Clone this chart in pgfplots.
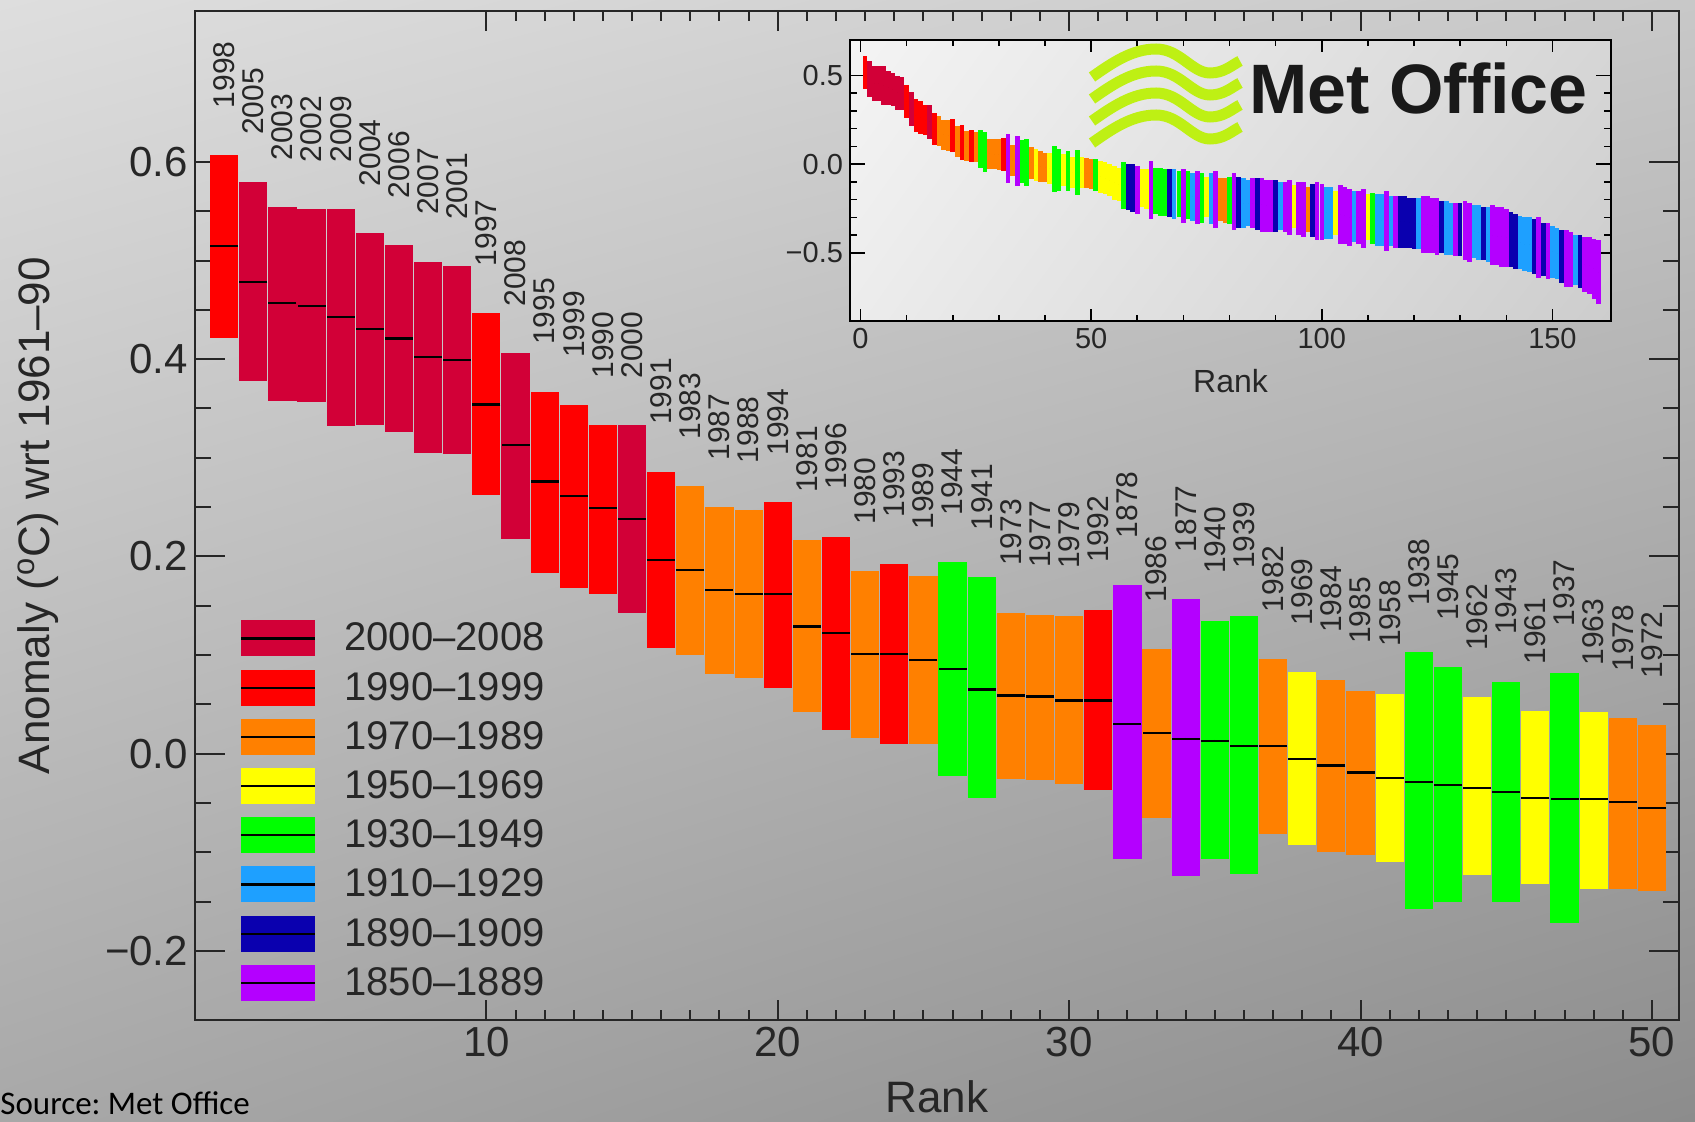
\documentclass[border=0pt]{standalone}
\usepackage{pgfplots}
\pgfplotsset{compat=1.18}
\usepackage{pgfplotstable}
\usetikzlibrary{shadings}
\usepackage{fontspec}
\setmainfont{Liberation Sans}
\newfontfamily\carlito{Carlito}

\definecolor{col1}{RGB}{210,0,55}
\definecolor{col2}{RGB}{255,0,0}
\definecolor{col3}{RGB}{255,128,0}
\definecolor{col4}{RGB}{255,255,0}
\definecolor{col5}{RGB}{0,255,0}
\definecolor{col6}{RGB}{30,160,255}
\definecolor{col7}{RGB}{10,0,175}
\definecolor{col8}{RGB}{180,0,255}
\definecolor{bgUL}{RGB}{222,222,222}
\definecolor{bgUR}{RGB}{200,200,200}
\definecolor{bgLL}{RGB}{168,168,168}
\definecolor{bgLR}{RGB}{140,140,140}
\definecolor{inUL}{RGB}{244,244,244}
\definecolor{inUR}{RGB}{214,214,214}
\definecolor{inLL}{RGB}{236,236,236}
\definecolor{inLR}{RGB}{205,205,205}
\definecolor{logo}{RGB}{190,240,20}

\pgfplotsset{
  rangebar/.style 2 args={forget plot, only marks, mark=*, mark size=0pt,
    mark options={draw=none, fill=none},
    x filter/.expression={\thisrow{c}==#1 ? x : nan},
    error bars/.cd, y dir=both, y explicit, error mark=none,
    error bar style={line width=#2, draw=col#1}},
}

% rank, lower, upper, median, colour group, year
\pgfplotstableread{
rank lo hi med c year
1 0.421 0.607 0.515 2 1998
2 0.378 0.580 0.478 1 2005
3 0.358 0.554 0.457 1 2003
4 0.357 0.552 0.454 1 2002
5 0.332 0.552 0.443 1 2009
6 0.333 0.528 0.431 1 2004
7 0.326 0.516 0.421 1 2006
8 0.305 0.499 0.402 1 2007
9 0.304 0.494 0.399 1 2001
10 0.262 0.447 0.354 2 1997
11 0.218 0.406 0.313 1 2008
12 0.183 0.367 0.276 2 1995
13 0.168 0.354 0.261 2 1999
14 0.162 0.333 0.249 2 1990
15 0.143 0.333 0.238 1 2000
16 0.107 0.286 0.196 2 1991
17 0.100 0.271 0.186 3 1983
18 0.081 0.250 0.166 3 1987
19 0.077 0.247 0.162 3 1988
20 0.067 0.255 0.162 2 1994
21 0.042 0.217 0.129 3 1981
22 0.024 0.220 0.122 2 1996
23 0.016 0.185 0.101 3 1980
24 0.010 0.192 0.101 2 1993
25 0.010 0.180 0.095 3 1989
26 -0.023 0.194 0.086 5 1944
27 -0.045 0.179 0.065 5 1941
28 -0.026 0.143 0.059 3 1973
29 -0.027 0.141 0.058 3 1977
30 -0.031 0.140 0.054 3 1979
31 -0.037 0.146 0.054 2 1992
32 -0.107 0.171 0.030 8 1878
33 -0.065 0.106 0.021 3 1986
34 -0.124 0.157 0.015 8 1877
35 -0.107 0.135 0.013 5 1940
36 -0.122 0.140 0.008 5 1939
37 -0.081 0.096 0.008 3 1982
38 -0.093 0.083 -0.005 4 1969
39 -0.100 0.075 -0.012 3 1984
40 -0.103 0.064 -0.019 3 1985
41 -0.110 0.061 -0.025 4 1958
42 -0.157 0.103 -0.029 5 1938
43 -0.150 0.088 -0.032 5 1945
44 -0.123 0.057 -0.035 4 1962
45 -0.150 0.073 -0.039 5 1943
46 -0.132 0.043 -0.045 4 1961
47 -0.172 0.082 -0.046 5 1937
48 -0.137 0.042 -0.046 4 1963
49 -0.137 0.036 -0.049 3 1978
50 -0.139 0.029 -0.055 3 1972
}\maindata

% inset, ranks 51-160: rank, upper, lower, colour group
\pgfplotstableread{
rank hi lo c
51 0.03 -0.15 5
52 0.02 -0.16 4
53 0.01 -0.17 4
54 0.00 -0.18 4
55 -0.01 -0.20 4
56 -0.02 -0.21 4
57 0.01 -0.25 5
58 0.00 -0.26 7
59 0.00 -0.27 7
60 -0.01 -0.28 8
61 -0.03 -0.24 4
62 -0.03 -0.25 4
63 0.02 -0.31 8
64 -0.02 -0.28 5
65 -0.02 -0.29 5
66 -0.03 -0.29 5
67 -0.03 -0.30 7
68 -0.03 -0.31 6
69 -0.04 -0.30 5
70 -0.03 -0.33 8
71 -0.04 -0.31 5
72 -0.05 -0.32 6
73 -0.04 -0.34 8
74 -0.05 -0.33 5
75 -0.07 -0.30 4
76 -0.05 -0.34 6
77 -0.04 -0.36 8
78 -0.08 -0.32 3
79 -0.08 -0.33 3
80 -0.07 -0.34 5
81 -0.05 -0.37 8
82 -0.07 -0.36 7
83 -0.08 -0.36 6
84 -0.09 -0.35 6
85 -0.08 -0.36 8
86 -0.08 -0.37 7
87 -0.08 -0.38 8
88 -0.09 -0.38 8
89 -0.09 -0.38 8
90 -0.09 -0.38 7
91 -0.10 -0.37 6
92 -0.10 -0.38 8
93 -0.09 -0.40 8
94 -0.12 -0.36 4
95 -0.10 -0.40 8
96 -0.10 -0.41 8
97 -0.13 -0.38 3
98 -0.11 -0.41 7
99 -0.10 -0.43 8
100 -0.11 -0.43 8
101 -0.13 -0.42 6
102 -0.13 -0.42 6
103 -0.15 -0.40 4
104 -0.12 -0.45 8
105 -0.13 -0.45 8
106 -0.14 -0.46 8
107 -0.15 -0.44 6
108 -0.15 -0.45 8
109 -0.14 -0.47 8
110 -0.17 -0.43 4
111 -0.16 -0.45 5
112 -0.17 -0.46 6
113 -0.17 -0.46 6
114 -0.15 -0.49 8
115 -0.18 -0.46 6
116 -0.18 -0.47 8
117 -0.18 -0.47 7
118 -0.18 -0.47 7
119 -0.19 -0.47 7
120 -0.19 -0.48 7
121 -0.19 -0.48 6
122 -0.18 -0.50 8
123 -0.18 -0.50 8
124 -0.19 -0.50 8
125 -0.19 -0.51 8
126 -0.21 -0.50 7
127 -0.21 -0.51 6
128 -0.22 -0.51 6
129 -0.22 -0.52 8
130 -0.22 -0.52 7
131 -0.21 -0.54 8
132 -0.22 -0.55 8
133 -0.23 -0.53 6
134 -0.23 -0.54 6
135 -0.24 -0.54 7
136 -0.24 -0.55 6
137 -0.23 -0.57 8
138 -0.24 -0.57 8
139 -0.24 -0.58 8
140 -0.25 -0.58 8
141 -0.27 -0.58 7
142 -0.28 -0.59 7
143 -0.29 -0.59 6
144 -0.30 -0.60 6
145 -0.30 -0.61 6
146 -0.31 -0.62 7
147 -0.30 -0.64 8
148 -0.33 -0.63 7
149 -0.33 -0.65 8
150 -0.35 -0.64 6
151 -0.36 -0.65 6
152 -0.37 -0.67 7
153 -0.37 -0.69 8
154 -0.38 -0.69 8
155 -0.40 -0.68 6
156 -0.40 -0.70 7
157 -0.41 -0.72 8
158 -0.41 -0.73 8
159 -0.42 -0.76 8
160 -0.43 -0.79 8
}\insetdata

\begin{document}
\begin{tikzpicture}
\shade[upper left=bgUL, upper right=bgUR, lower left=bgLL, lower right=bgLR]
  (0pt,0pt) rectangle (847.5pt,560.5pt);

\begin{axis}[
  at={(97.5pt,50.5pt)}, anchor=south west,
  scale only axis, width=742pt, height=504.5pt,
  xmin=0, xmax=50.93, ymin=-0.27, ymax=0.753,
  /pgf/number format/assume math mode=true,
  xtick={10,20,30,40,50}, minor x tick num=9,
  ytick={-0.2,0,0.2,0.4,0.6}, yticklabels={−0.2,0.0,0.2,0.4,0.6},
  minor y tick num=3,
  tick align=inside, tick pos=both,
  major tick length=10pt, minor tick length=5pt,
  ytick style={/pgfplots/major tick length=15pt, /pgfplots/minor tick length=8pt},
  tick style={line width=1pt, black!85},
  axis line style={line width=1.1pt, black!85},
  xticklabel style={font=\fontsize{21}{21}\selectfont, text=black!85},
  yticklabel style={font=\fontsize{21}{21}\selectfont, text=black!85},
  xlabel={Rank},
  xlabel style={at={(axis description cs:0.5,-0.0912)}, anchor=base,
    font=\fontsize{22}{22}\selectfont, text=black!85},
  ylabel={Anomaly (\textsuperscript{o}C) wrt 1961–90},
  ylabel style={at={(axis description cs:-0.1058,0.5)}, anchor=center,
    font=\fontsize{22}{22}\selectfont, text=black!85},
  legend image code/.code={
    \path[draw=none, fill] (0pt,-9pt) rectangle (36.7pt,9pt);
    \draw[black, line width=1.1pt] (0pt,0pt) -- (36.7pt,0pt);
  },
  legend cell align=left,
  legend style={draw=none, fill=none, inner sep=0pt, row sep=6.6pt,
    column sep=6.5pt,
    font=\fontsize{20}{20}\selectfont, text=black!85,
    nodes={inner xsep=7.7pt, inner ysep=0pt},
    at={(axis description cs:0.0303,0.3964)}, anchor=north west},
]
\addlegendimage{fill=col1}\addlegendentry{2000–2008}
\addlegendimage{fill=col2}\addlegendentry{1990–1999}
\addlegendimage{fill=col3}\addlegendentry{1970–1989}
\addlegendimage{fill=col4}\addlegendentry{1950–1969}
\addlegendimage{fill=col5}\addlegendentry{1930–1949}
\addlegendimage{fill=col6}\addlegendentry{1910–1929}
\addlegendimage{fill=col7}\addlegendentry{1890–1909}
\addlegendimage{fill=col8}\addlegendentry{1850–1889}

\pgfplotsinvokeforeach{1,...,8}{
  \addplot[rangebar={#1}{14.1pt}]
    table[x=rank, y expr=(\thisrow{hi}+\thisrow{lo})/2,
          y error expr=(\thisrow{hi}-\thisrow{lo})/2] {\maindata};
}
\addplot[forget plot, only marks, mark=-, mark size=7pt,
  mark options={line width=1.1pt, draw=black}]
  table[x=rank, y=med] {\maindata};
\addplot[forget plot, only marks, mark=none, nodes near coords,
  point meta=explicit symbolic,
  nodes near coords style={rotate=90, anchor=west, inner sep=0pt,
    font=\fontsize{15}{15}\selectfont, text=black!85}]
  table[x=rank, y expr=\thisrow{hi}+0.047, meta=year] {\maindata};
\end{axis}

% inset
\shade[upper left=inUL, upper right=inUR, lower left=inLL, lower right=inLR]
  (425pt,400pt) rectangle (805.5pt,540.5pt);
\begin{axis}[
  at={(425pt,400pt)}, anchor=south west,
  scale only axis, width=380.5pt, height=140.5pt,
  xmin=-2.28, xmax=162.7, ymin=-0.884, ymax=0.70,
  /pgf/number format/assume math mode=true,
  xtick={0,50,100,150}, minor x tick num=4,
  ytick={-0.5,0,0.5}, yticklabels={−0.5,0.0,0.5}, minor y tick num=4,
  tick align=inside, tick pos=both,
  major tick length=6pt, minor tick length=3pt,
  ytick style={/pgfplots/major tick length=7.5pt, /pgfplots/minor tick length=3.5pt},
  tick style={line width=0.8pt, black},
  axis line style={line width=1pt, black},
  xticklabel style={font=\fontsize{14.5}{14.5}\selectfont, text=black!85},
  yticklabel style={font=\fontsize{14.5}{14.5}\selectfont, text=black!85},
  xlabel={Rank},
  xlabel style={at={(axis description cs:0.5,-0.2527)}, anchor=base,
    font=\fontsize{16}{16}\selectfont, text=black!85},
]
\pgfplotsinvokeforeach{1,...,8}{
  \addplot[rangebar={#1}{2.3pt}]
    table[x=rank, y expr=(\thisrow{hi}+\thisrow{lo})/2,
          y error expr=(\thisrow{hi}-\thisrow{lo})/2] {\maindata};
  \addplot[rangebar={#1}{2.3pt}]
    table[x=rank, y expr=(\thisrow{hi}+\thisrow{lo})/2,
          y error expr=(\thisrow{hi}-\thisrow{lo})/2] {\insetdata};
}
\end{axis}

% Met Office logo
\foreach \yb in {527,516,505,494}{
  \draw[logo, line width=5.5pt]
    (546pt,\yb pt-5pt) .. controls (556pt,\yb pt+2pt) and (566pt,\yb pt+9pt)
    .. (578pt,\yb pt+9pt) .. controls (590pt,\yb pt+9pt) and (596pt,\yb pt-3pt)
    .. (605pt,\yb pt-3pt) .. controls (612pt,\yb pt-3pt) and (616pt,\yb pt+1pt)
    .. (620pt,\yb pt+3pt);
}
\node[anchor=base west, inner sep=0pt, text=black!90,
  font=\bfseries\fontsize{35}{35}\selectfont] at (624.5pt,503.75pt) {Met Office};

\node[anchor=base west, inner sep=0pt, text=black,
  font=\carlito\fontsize{16.5}{16.5}\selectfont] at (0pt,3.5pt) {Source:\ Met Office};

\pgfresetboundingbox
\path (0pt,0pt) rectangle (847.5pt,560.5pt);
\end{tikzpicture}
\end{document}
